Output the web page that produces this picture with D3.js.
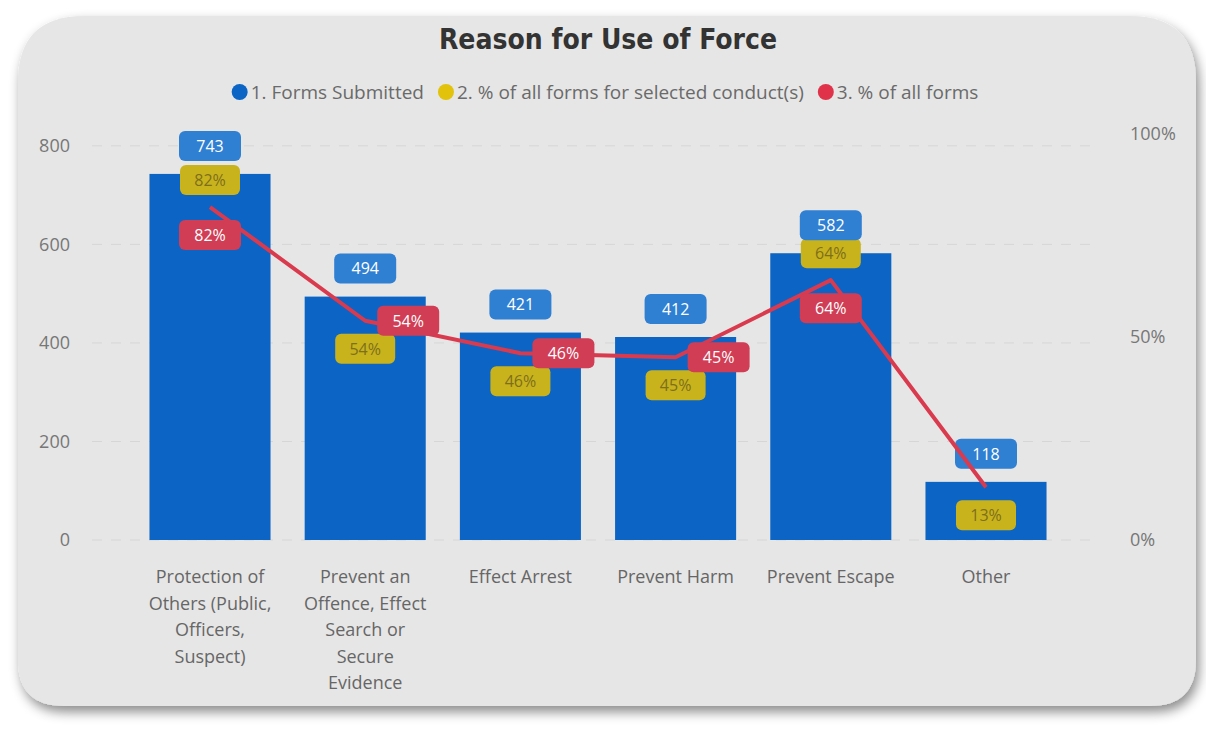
<!DOCTYPE html>
<html>
<head>
    <meta charset="utf-8">
    <script src="https://cdn.jsdelivr.net/npm/d3@7"></script>
    <style>
        body {
            margin: 0;
            background: #fff;
            font-family: "Open Sans", "Noto Sans", sans-serif;
        }
        .tick text {
            fill: #777;
        }
        .grid line {
            stroke: #d6d6d6;
            stroke-dasharray: 10, 9;
        }
        .xlab {
            fill: #666;
            font-size: 18px;
        }
    </style>
</head>
<body>
<svg id="chart" width="1206" height="729"></svg>

<script>
    // data
    var categories = ["Protection of Others (Public, Officers, Suspect)",
        "Prevent an Offence, Effect Search or Secure Evidence",
        "Effect Arrest", "Prevent Harm", "Prevent Escape", "Other"];
    var formsSubmitted = [743, 494, 421, 412, 582, 118];
    var pctSelected = [0.82, 0.54, 0.46, 0.45, 0.64, 0.13];
    var pctAll = [0.82, 0.54, 0.46, 0.45, 0.64, 0.13];
    var leftTicks = [0, 200, 400, 600, 800];
    var rightTicks = [0, 0.5, 1];
    var legendNames = ["1. Forms Submitted", "2. % of all forms for selected conduct(s)", "3. % of all forms"];

    var colBar = "#0c64c5", colBlueLab = "#2f7fd3",
        colYellow = "#c9b31d", colYellowDot = "#e2c20a",
        colRed = "#d03d55", colRedDot = "#e0334a", colLine = "#da3a4e";

    var svg = d3.select("#chart");
    var defs = svg.append("defs");

    var shadow = defs.append("filter").attr("id", "shadow")
        .attr("x", "-5%").attr("y", "-5%").attr("width", "112%").attr("height", "115%");
    shadow.append("feDropShadow")
        .attr("dx", 3).attr("dy", 6).attr("stdDeviation", 6)
        .attr("flood-color", "#000").attr("flood-opacity", 0.45);

    // card with uneven rounded corners
    var cx0 = 18, cy0 = 16, cx1 = 1196, cy1 = 706, rt = 66, rb = 46;
    var card = d3.path();
    card.moveTo(cx0 + rt, cy0);
    card.lineTo(cx1 - rt, cy0);
    card.quadraticCurveTo(cx1, cy0, cx1, cy0 + rt);
    card.lineTo(cx1, cy1 - rb);
    card.quadraticCurveTo(cx1, cy1, cx1 - rb, cy1);
    card.lineTo(cx0 + rb, cy1);
    card.quadraticCurveTo(cx0, cy1, cx0, cy1 - rb);
    card.lineTo(cx0, cy0 + rt);
    card.quadraticCurveTo(cx0, cy0, cx0 + rt, cy0);
    card.closePath();
    svg.append("path").attr("d", card.toString())
        .attr("fill", "#e6e6e6").attr("filter", "url(#shadow)");

    var x = d3.scaleBand()
        .domain(categories)
        .range([132.4, 1063.6])
        .paddingInner(0.22)
        .paddingOuter(0.11);

    var yL = d3.scaleLinear().domain([0, 824]).range([540, 134]);
    var yR = d3.scaleLinear().domain([0, 1]).range([540, 134]);

    // title
    svg.append("text")
        .attr("x", 608).attr("y", 49)
        .attr("text-anchor", "middle")
        .style("font-family", "'DejaVu Sans Condensed', sans-serif")
        .style("font-weight", "bold")
        .style("font-size", "28px")
        .style("fill", "#333")
        .text("Reason for Use of Force");

    // legend
    var legendColors = [colBar, colYellowDot, colRedDot];
    var legend = svg.append("g").attr("transform", "translate(0,92)");
    var items = legend.selectAll("g").data(legendNames).enter().append("g");
    items.append("circle").attr("r", 8).attr("fill", function (d, i) { return legendColors[i]; });
    items.append("text")
        .attr("x", 11).attr("dy", "0.35em")
        .style("font-size", "19px").style("fill", "#6a6a6a")
        .text(function (d) { return d; });
    var lx = 0, offs = [];
    items.each(function () {
        var w = d3.select(this).select("text").node().getComputedTextLength();
        offs.push(lx);
        lx += 19 + w + 14;
    });
    var lstart = 605 - (lx - 14) / 2 + 8;
    items.attr("transform", function (d, i) { return "translate(" + (lstart + offs[i]) + ",0)"; });

    // gridlines
    svg.append("g").attr("class", "grid")
        .selectAll("line").data(leftTicks).enter().append("line")
        .attr("x1", 92).attr("x2", 1095)
        .attr("y1", function (d) { return yL(d); })
        .attr("y2", function (d) { return yL(d); });

    // axes
    var axL = svg.append("g").attr("transform", "translate(70,0)")
        .call(d3.axisLeft(yL).tickValues(leftTicks).tickSize(0).tickPadding(0));
    var axR = svg.append("g").attr("transform", "translate(1130,0)")
        .call(d3.axisRight(yR).tickValues(rightTicks).tickSize(0).tickPadding(0).tickFormat(d3.format(".0%")));
    [axL, axR].forEach(function (a) {
        a.select(".domain").remove();
        a.selectAll("text").style("font-size", "18px").style("font-family", "'Open Sans', sans-serif");
    });

    // x labels, wrapped a little wider than the bar
    var wrapW = x.bandwidth() + 11;
    var xl = svg.append("g");
    categories.forEach(function (c) {
        var mx = x(c) + x.bandwidth() / 2;
        var t = xl.append("text").attr("class", "xlab")
            .attr("text-anchor", "middle")
            .attr("x", mx).attr("y", 583);
        var words = c.split(" "), line = [];
        var ts = t.append("tspan").attr("x", mx).attr("dy", 0);
        words.forEach(function (w) {
            line.push(w);
            ts.text(line.join(" "));
            if (ts.node().getComputedTextLength() > wrapW && line.length > 1) {
                line.pop();
                ts.text(line.join(" "));
                line = [w];
                ts = t.append("tspan").attr("x", mx).attr("dy", 26.5).text(w);
            }
        });
    });

    // bars
    svg.append("g").selectAll("rect").data(formsSubmitted).enter().append("rect")
        .attr("x", function (d, i) { return x(categories[i]); })
        .attr("width", x.bandwidth())
        .attr("y", function (d) { return yL(d); })
        .attr("height", function (d) { return yL(0) - yL(d); })
        .attr("fill", colBar);

    function cxOf(i) { return x(categories[i]) + x.bandwidth() / 2; }
    function isPeak(i) {
        var p = pctSelected;
        var a = i > 0 ? p[i - 1] : -1, b = i < p.length - 1 ? p[i + 1] : -1;
        return p[i] >= a && p[i] >= b;
    }

    function label(g, cx, cy, w, txt, bg, fg) {
        var gg = g.append("g").attr("transform", "translate(" + cx + "," + cy + ")");
        gg.append("rect").attr("x", -w / 2).attr("y", -15).attr("width", w).attr("height", 30)
            .attr("rx", 6).attr("fill", bg);
        gg.append("text").attr("text-anchor", "middle").attr("dy", "0.36em")
            .style("font-size", "16px").style("fill", fg).text(txt);
    }

    var labs = svg.append("g");
    var pct = d3.format(".0%");

    // yellow labels (series 2) above the peaks, below otherwise
    pctSelected.forEach(function (v, i) {
        var cy = yR(v) + (isPeak(i) ? -27 : 28);
        label(labs, cxOf(i), cy, 60, pct(v), colYellow, "#7d6f1c");
    });
    // blue labels above bars
    formsSubmitted.forEach(function (v, i) {
        label(labs, cxOf(i), yL(v) - 28, 62, v, colBlueLab, "#fff");
    });

    // line (series 3)
    var line = d3.line()
        .x(function (d, i) { return cxOf(i); })
        .y(function (d) { return yR(d); });
    svg.append("path").datum(pctAll)
        .attr("d", line)
        .attr("fill", "none")
        .attr("stroke", colLine)
        .attr("stroke-width", 4)
        .attr("stroke-linejoin", "round");

    // red labels: below the peaks, to the right elsewhere; the last one is not drawn in the source
    var redLabs = svg.append("g");
    pctAll.forEach(function (v, i) {
        if (i === pctAll.length - 1) return;
        var peak = isPeak(i);
        var cx = peak ? cxOf(i) : cxOf(i) + 43;
        var cy = peak ? yR(v) + 28 : yR(v);
        label(redLabs, cx, cy, 62, pct(v), colRed, "#fff");
    });
</script>
</body>
</html>
